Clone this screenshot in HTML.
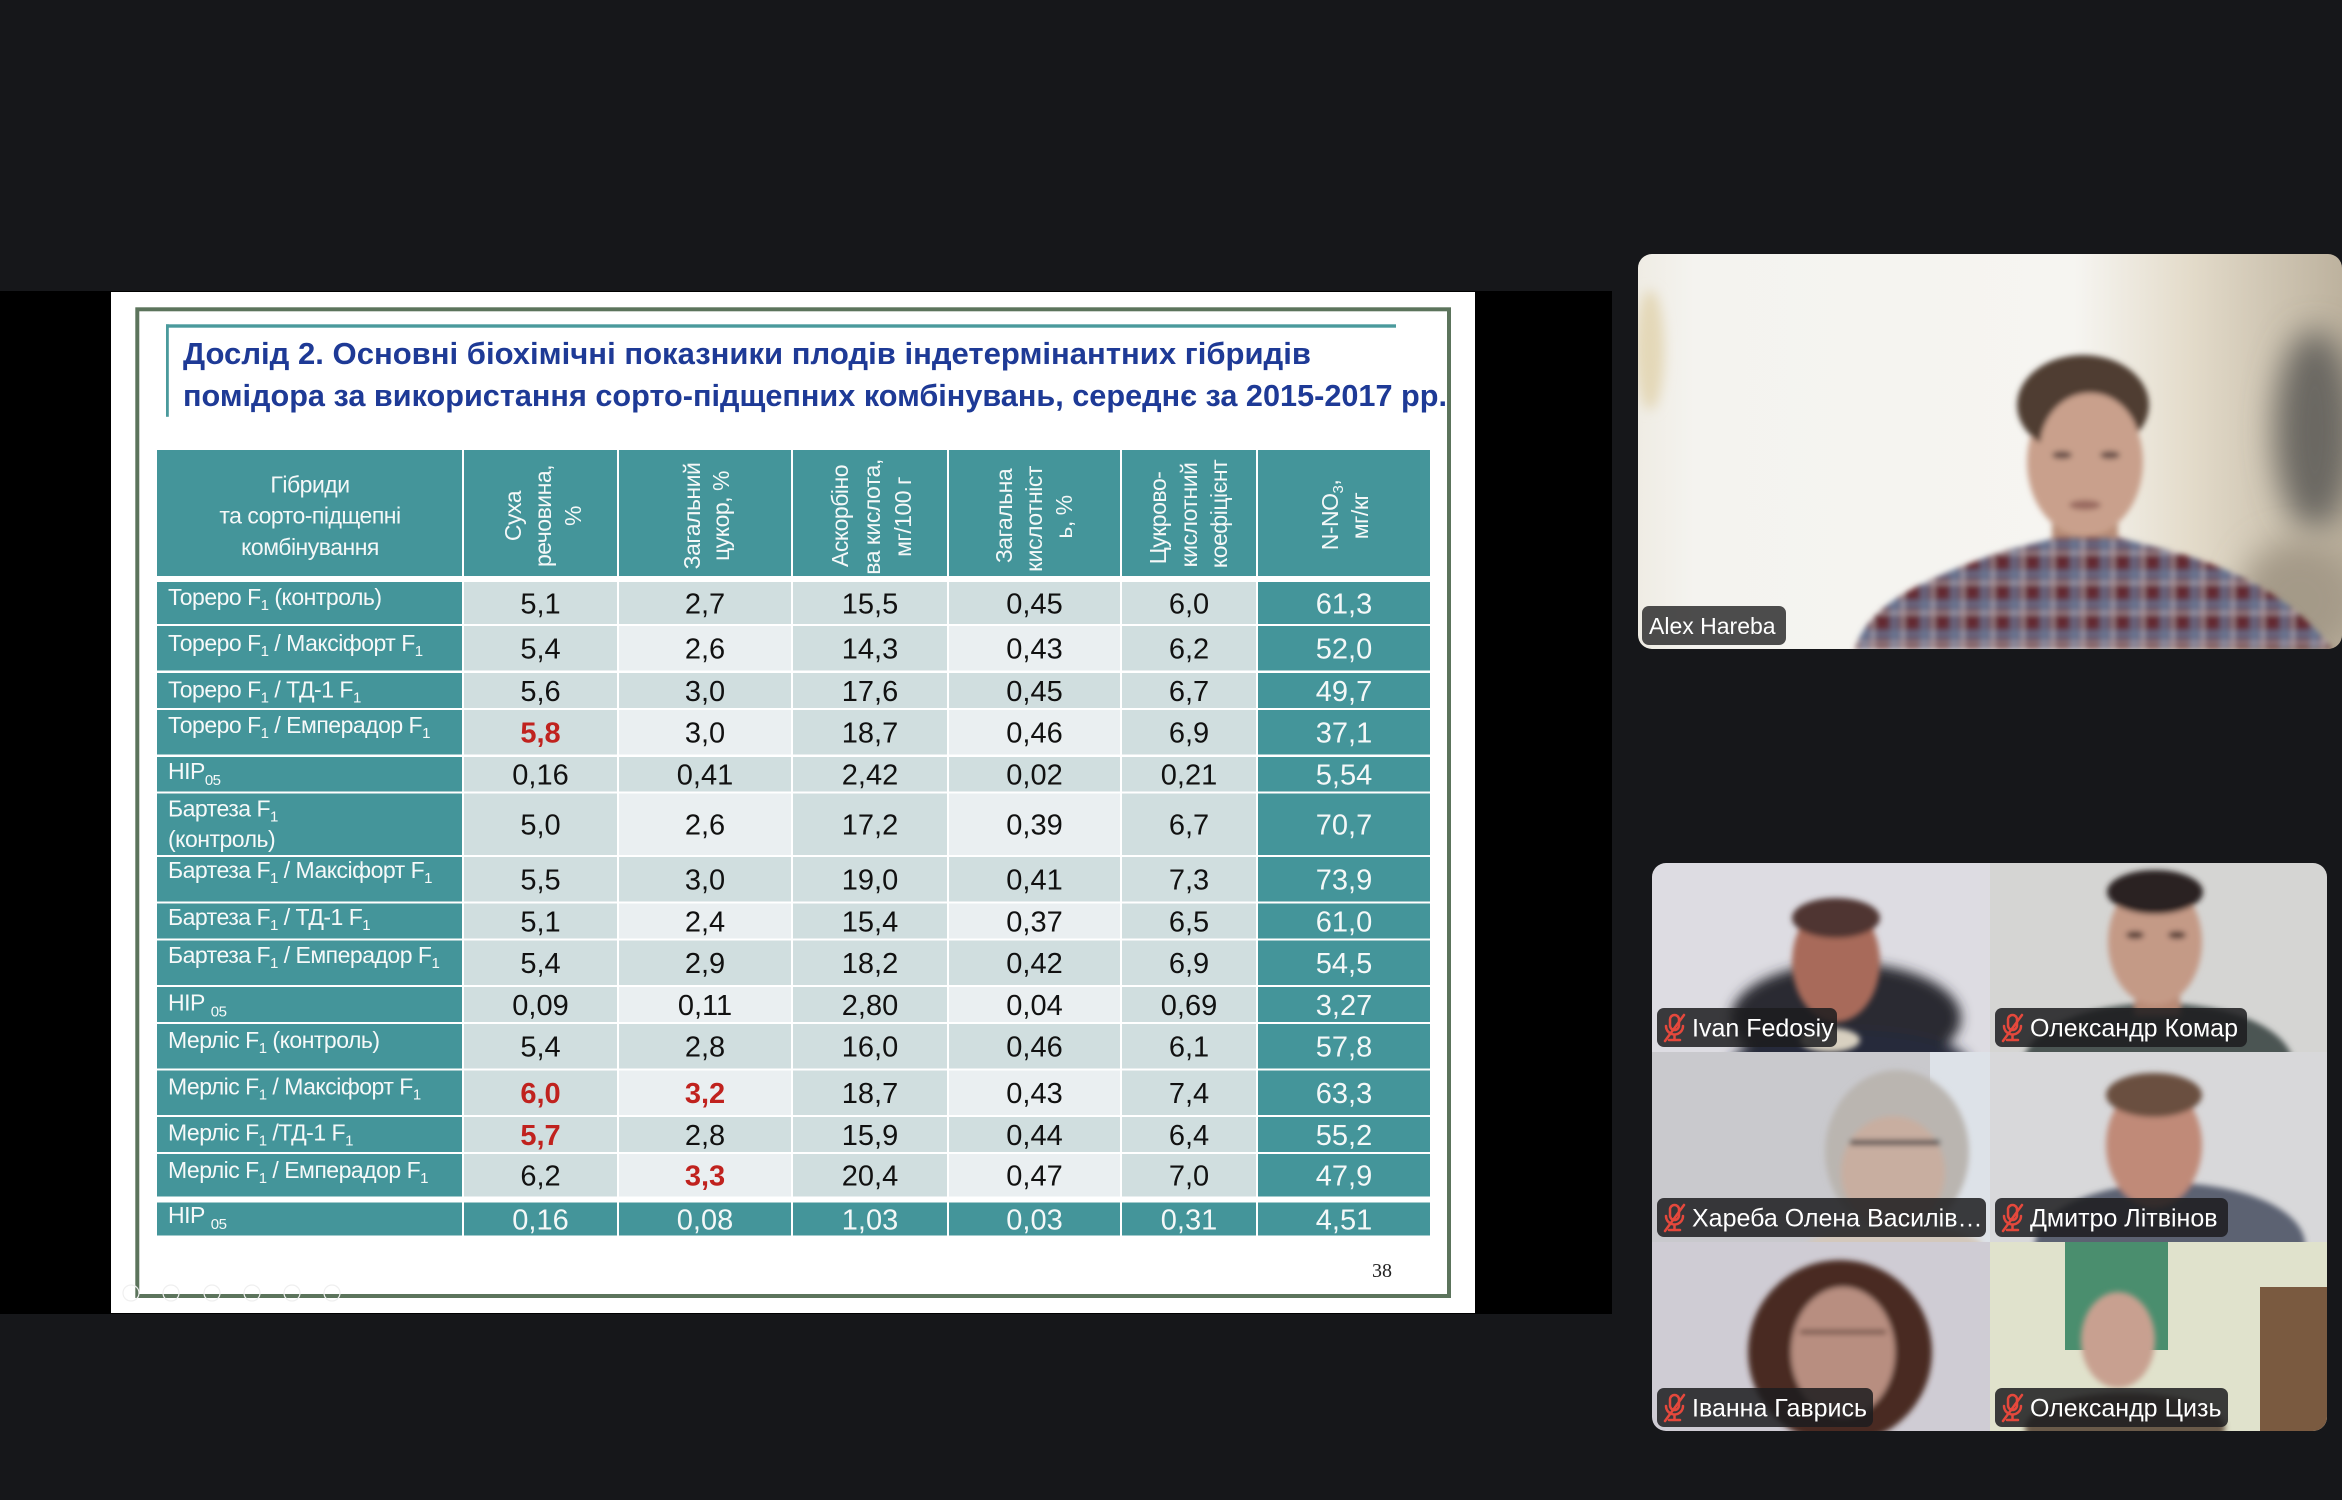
<!DOCTYPE html>
<html>
<head>
<meta charset="utf-8">
<style>
html,body{margin:0;padding:0;background:#16171a;overflow:hidden;}
svg{display:block;}
</style>
</head>
<body>
<svg width="2342" height="1500" viewBox="0 0 2342 1500" xmlns="http://www.w3.org/2000/svg" font-family="'Liberation Sans', Arial, sans-serif">
<defs>
  <filter id="b6" x="-50%" y="-50%" width="200%" height="200%"><feGaussianBlur stdDeviation="6"/></filter>
  <filter id="b3" x="-50%" y="-50%" width="200%" height="200%"><feGaussianBlur stdDeviation="3"/></filter>
  <filter id="b14" x="-50%" y="-50%" width="200%" height="200%"><feGaussianBlur stdDeviation="16"/></filter>
  <pattern id="plaid" width="30" height="30" patternUnits="userSpaceOnUse">
    <rect width="30" height="30" fill="#632a33"/>
    <rect x="0" y="0" width="9" height="30" fill="#6a7c9a" opacity="0.7"/>
    <rect x="0" y="0" width="30" height="9" fill="#6a7c9a" opacity="0.7"/>
    <rect x="12" y="0" width="2" height="30" fill="#eceef4" opacity="0.65"/>
    <rect x="0" y="12" width="30" height="2" fill="#eceef4" opacity="0.65"/>
  </pattern>
  <linearGradient id="mainbg" x1="0" y1="0" x2="1" y2="0">
    <stop offset="0" stop-color="#efece4"/>
    <stop offset="0.08" stop-color="#f4f3ef"/>
    <stop offset="0.62" stop-color="#f6f5f1"/>
    <stop offset="0.78" stop-color="#e4dccb"/>
    <stop offset="1" stop-color="#bdb29e"/>
  </linearGradient>
  <clipPath id="mainclip"><rect x="1638" y="254" width="704" height="395" rx="14"/></clipPath>
  <clipPath id="galclip"><rect x="1652" y="863" width="675" height="568" rx="14"/></clipPath>
</defs>

<rect x="0" y="0" width="2342" height="1500" fill="#16171a"/>
<rect x="0" y="291" width="1612" height="1023" fill="#000"/>
<rect x="111" y="292" width="1364" height="1021" fill="#ffffff"/>
<rect x="137.3" y="309.3" width="1311.7" height="986.7" fill="none" stroke="#5c745c" stroke-width="4"/>

<rect x="166" y="324.3" width="1230" height="3.4" fill="#4a9a9c"/>
<rect x="166" y="324.3" width="2.8" height="92.5" fill="#4a9a9c"/>

<g font-weight="bold" font-size="31" fill="#1e3a96">
<text x="183" y="364" textLength="1128" lengthAdjust="spacingAndGlyphs">Дослід 2. Основні біохімічні показники плодів індетермінантних гібридів</text>
<text x="183" y="406" textLength="1264" lengthAdjust="spacingAndGlyphs">помідора за використання сорто-підщепних комбінувань, середнє за 2015-2017 рр.</text>
</g>

<g fill="#44959a">
<rect x="157" y="450" width="305" height="126"/>
<rect x="464" y="450" width="153" height="126"/>
<rect x="619" y="450" width="172" height="126"/>
<rect x="793" y="450" width="154" height="126"/>
<rect x="949" y="450" width="171" height="126"/>
<rect x="1122" y="450" width="134" height="126"/>
<rect x="1258" y="450" width="172" height="126"/>
</g>

<g fill="#f4f8f8" font-size="23" letter-spacing="-0.5" text-anchor="middle">
<text x="310" y="492.7">Гібриди</text>
<text x="310" y="523.5">та сорто-підщепні</text>
<text x="310" y="555">комбінування</text>

<text transform="translate(521,516) rotate(-90)">Суха</text>
<text transform="translate(551,516) rotate(-90)">речовина,</text>
<text transform="translate(581,516) rotate(-90)">%</text>

<text transform="translate(700,516) rotate(-90)">Загальний</text>
<text transform="translate(729,516) rotate(-90)">цукор, %</text>

<text transform="translate(848,516) rotate(-90)">Аскорбіно</text>
<text transform="translate(880,517) rotate(-90)">ва кислота,</text>
<text transform="translate(911,517) rotate(-90)">мг/100 г</text>

<text transform="translate(1012,516) rotate(-90)">Загальна</text>
<text transform="translate(1042,519) rotate(-90)">кислотніст</text>
<text transform="translate(1072,517) rotate(-90)">ь, %</text>

<text transform="translate(1166,518) rotate(-90)">Цукрово-</text>
<text transform="translate(1197,515) rotate(-90)">кислотний</text>
<text transform="translate(1227,514) rotate(-90)">коефіцієнт</text>

<text transform="translate(1338,515) rotate(-90)">N-NO<tspan font-size="15" dy="5">3</tspan><tspan dy="-5">,</tspan></text>
<text transform="translate(1368,516) rotate(-90)">мг/кг</text>
</g>

<g fill="#44959a">
<rect x="157" y="582" width="305" height="42"/><rect x="1258" y="582" width="172" height="42"/>
<rect x="157" y="626" width="305" height="44.5"/><rect x="1258" y="626" width="172" height="44.5"/>
<rect x="157" y="673" width="305" height="35"/><rect x="1258" y="673" width="172" height="35"/>
<rect x="157" y="710" width="305" height="44.5"/><rect x="1258" y="710" width="172" height="44.5"/>
<rect x="157" y="757" width="305" height="34.5"/><rect x="1258" y="757" width="172" height="34.5"/>
<rect x="157" y="793.5" width="305" height="61.5"/><rect x="1258" y="793.5" width="172" height="61.5"/>
<rect x="157" y="857" width="305" height="44.5"/><rect x="1258" y="857" width="172" height="44.5"/>
<rect x="157" y="903.5" width="305" height="35"/><rect x="1258" y="903.5" width="172" height="35"/>
<rect x="157" y="940.5" width="305" height="44.5"/><rect x="1258" y="940.5" width="172" height="44.5"/>
<rect x="157" y="987" width="305" height="35"/><rect x="1258" y="987" width="172" height="35"/>
<rect x="157" y="1024" width="305" height="44.5"/><rect x="1258" y="1024" width="172" height="44.5"/>
<rect x="157" y="1070.5" width="305" height="44.5"/><rect x="1258" y="1070.5" width="172" height="44.5"/>
<rect x="157" y="1117" width="305" height="35"/><rect x="1258" y="1117" width="172" height="35"/>
<rect x="157" y="1154" width="305" height="42.5"/><rect x="1258" y="1154" width="172" height="42.5"/>
<rect x="157" y="1202.5" width="305" height="33"/>
<rect x="464" y="1202.5" width="153" height="33"/>
<rect x="619" y="1202.5" width="172" height="33"/>
<rect x="793" y="1202.5" width="154" height="33"/>
<rect x="949" y="1202.5" width="171" height="33"/>
<rect x="1122" y="1202.5" width="134" height="33"/>
<rect x="1258" y="1202.5" width="172" height="33"/>
</g>

<g fill="#d0dedf">
<rect x="464" y="582" width="153" height="42"/><rect x="464" y="626" width="153" height="44.5"/><rect x="464" y="673" width="153" height="35"/><rect x="464" y="710" width="153" height="44.5"/><rect x="464" y="757" width="153" height="34.5"/><rect x="464" y="793.5" width="153" height="61.5"/><rect x="464" y="857" width="153" height="44.5"/><rect x="464" y="903.5" width="153" height="35"/><rect x="464" y="940.5" width="153" height="44.5"/><rect x="464" y="987" width="153" height="35"/><rect x="464" y="1024" width="153" height="44.5"/><rect x="464" y="1070.5" width="153" height="44.5"/><rect x="464" y="1117" width="153" height="35"/><rect x="464" y="1154" width="153" height="42.5"/>
<rect x="793" y="582" width="154" height="42"/><rect x="793" y="626" width="154" height="44.5"/><rect x="793" y="673" width="154" height="35"/><rect x="793" y="710" width="154" height="44.5"/><rect x="793" y="757" width="154" height="34.5"/><rect x="793" y="793.5" width="154" height="61.5"/><rect x="793" y="857" width="154" height="44.5"/><rect x="793" y="903.5" width="154" height="35"/><rect x="793" y="940.5" width="154" height="44.5"/><rect x="793" y="987" width="154" height="35"/><rect x="793" y="1024" width="154" height="44.5"/><rect x="793" y="1070.5" width="154" height="44.5"/><rect x="793" y="1117" width="154" height="35"/><rect x="793" y="1154" width="154" height="42.5"/>
<rect x="1122" y="582" width="134" height="42"/><rect x="1122" y="626" width="134" height="44.5"/><rect x="1122" y="673" width="134" height="35"/><rect x="1122" y="710" width="134" height="44.5"/><rect x="1122" y="757" width="134" height="34.5"/><rect x="1122" y="793.5" width="134" height="61.5"/><rect x="1122" y="857" width="134" height="44.5"/><rect x="1122" y="903.5" width="134" height="35"/><rect x="1122" y="940.5" width="134" height="44.5"/><rect x="1122" y="987" width="134" height="35"/><rect x="1122" y="1024" width="134" height="44.5"/><rect x="1122" y="1070.5" width="134" height="44.5"/><rect x="1122" y="1117" width="134" height="35"/><rect x="1122" y="1154" width="134" height="42.5"/>
<rect x="619" y="582" width="172" height="42"/><rect x="949" y="582" width="171" height="42"/>
<rect x="619" y="673" width="172" height="35"/><rect x="949" y="673" width="171" height="35"/>
<rect x="619" y="757" width="172" height="34.5"/><rect x="949" y="757" width="171" height="34.5"/>
<rect x="619" y="857" width="172" height="44.5"/><rect x="949" y="857" width="171" height="44.5"/>
<rect x="619" y="940.5" width="172" height="44.5"/><rect x="949" y="940.5" width="171" height="44.5"/>
<rect x="619" y="1024" width="172" height="44.5"/><rect x="949" y="1024" width="171" height="44.5"/>
<rect x="619" y="1117" width="172" height="35"/><rect x="949" y="1117" width="171" height="35"/>
</g>
<g fill="#eaeff1">
<rect x="619" y="626" width="172" height="44.5"/><rect x="949" y="626" width="171" height="44.5"/>
<rect x="619" y="710" width="172" height="44.5"/><rect x="949" y="710" width="171" height="44.5"/>
<rect x="619" y="793.5" width="172" height="61.5"/><rect x="949" y="793.5" width="171" height="61.5"/>
<rect x="619" y="903.5" width="172" height="35"/><rect x="949" y="903.5" width="171" height="35"/>
<rect x="619" y="987" width="172" height="35"/><rect x="949" y="987" width="171" height="35"/>
<rect x="619" y="1070.5" width="172" height="44.5"/><rect x="949" y="1070.5" width="171" height="44.5"/>
<rect x="619" y="1154" width="172" height="42.5"/><rect x="949" y="1154" width="171" height="42.5"/>
</g>

<g fill="#f6f9f9" font-size="23" letter-spacing="-0.5">
<text x="168" y="605">Тореро F<tspan font-size="15" dy="5">1</tspan><tspan dy="-5"> (контроль)</tspan></text>
<text x="168" y="651">Тореро F<tspan font-size="15" dy="5">1</tspan><tspan dy="-5"> / Максіфорт F</tspan><tspan font-size="15" dy="5">1</tspan></text>
<text x="168" y="697.5">Тореро F<tspan font-size="15" dy="5">1</tspan><tspan dy="-5"> / ТД-1 F</tspan><tspan font-size="15" dy="5">1</tspan></text>
<text x="168" y="733">Тореро F<tspan font-size="15" dy="5">1</tspan><tspan dy="-5"> / Емперадор F</tspan><tspan font-size="15" dy="5">1</tspan></text>
<text x="168" y="779">НІР<tspan font-size="15" dy="6">05</tspan></text>
<text x="168" y="816.5">Бартеза F<tspan font-size="15" dy="5">1</tspan></text>
<text x="168" y="847">(контроль)</text>
<text x="168" y="878">Бартеза  F<tspan font-size="15" dy="5">1</tspan><tspan dy="-5"> / Максіфорт F</tspan><tspan font-size="15" dy="5">1</tspan></text>
<text x="168" y="925">Бартеза F<tspan font-size="15" dy="5">1</tspan><tspan dy="-5"> / ТД-1 F</tspan><tspan font-size="15" dy="5">1</tspan></text>
<text x="168" y="963">Бартеза F<tspan font-size="15" dy="5">1</tspan><tspan dy="-5"> / Емперадор F</tspan><tspan font-size="15" dy="5">1</tspan></text>
<text x="168" y="1010.5">НІР <tspan font-size="15" dy="6">05</tspan></text>
<text x="168" y="1048">Мерліс F<tspan font-size="15" dy="5">1</tspan><tspan dy="-5"> (контроль)</tspan></text>
<text x="168" y="1094.5">Мерліс F<tspan font-size="15" dy="5">1</tspan><tspan dy="-5"> / Максіфорт F</tspan><tspan font-size="15" dy="5">1</tspan></text>
<text x="168" y="1140.5">Мерліс  F<tspan font-size="15" dy="5">1</tspan><tspan dy="-5"> /ТД-1 F</tspan><tspan font-size="15" dy="5">1</tspan></text>
<text x="168" y="1178">Мерліс  F<tspan font-size="15" dy="5">1</tspan><tspan dy="-5"> / Емперадор F</tspan><tspan font-size="15" dy="5">1</tspan></text>
<text x="168" y="1223">НІР <tspan font-size="15" dy="6">05</tspan></text>
</g>

<g font-size="29" text-anchor="middle" fill="#111111">
<text x="540.5" y="613.3">5,1</text><text x="705" y="613.3">2,7</text><text x="870" y="613.3">15,5</text><text x="1034.5" y="613.3">0,45</text><text x="1189" y="613.3">6,0</text>
<text x="540.5" y="658.5">5,4</text><text x="705" y="658.5">2,6</text><text x="870" y="658.5">14,3</text><text x="1034.5" y="658.5">0,43</text><text x="1189" y="658.5">6,2</text>
<text x="540.5" y="700.8">5,6</text><text x="705" y="700.8">3,0</text><text x="870" y="700.8">17,6</text><text x="1034.5" y="700.8">0,45</text><text x="1189" y="700.8">6,7</text>
<text x="540.5" y="742.5" fill="#c0221e" font-weight="bold">5,8</text><text x="705" y="742.5">3,0</text><text x="870" y="742.5">18,7</text><text x="1034.5" y="742.5">0,46</text><text x="1189" y="742.5">6,9</text>
<text x="540.5" y="784.5">0,16</text><text x="705" y="784.5">0,41</text><text x="870" y="784.5">2,42</text><text x="1034.5" y="784.5">0,02</text><text x="1189" y="784.5">0,21</text>
<text x="540.5" y="834.5">5,0</text><text x="705" y="834.5">2,6</text><text x="870" y="834.5">17,2</text><text x="1034.5" y="834.5">0,39</text><text x="1189" y="834.5">6,7</text>
<text x="540.5" y="889.5">5,5</text><text x="705" y="889.5">3,0</text><text x="870" y="889.5">19,0</text><text x="1034.5" y="889.5">0,41</text><text x="1189" y="889.5">7,3</text>
<text x="540.5" y="931.3">5,1</text><text x="705" y="931.3">2,4</text><text x="870" y="931.3">15,4</text><text x="1034.5" y="931.3">0,37</text><text x="1189" y="931.3">6,5</text>
<text x="540.5" y="973">5,4</text><text x="705" y="973">2,9</text><text x="870" y="973">18,2</text><text x="1034.5" y="973">0,42</text><text x="1189" y="973">6,9</text>
<text x="540.5" y="1014.8">0,09</text><text x="705" y="1014.8">0,11</text><text x="870" y="1014.8">2,80</text><text x="1034.5" y="1014.8">0,04</text><text x="1189" y="1014.8">0,69</text>
<text x="540.5" y="1056.5">5,4</text><text x="705" y="1056.5">2,8</text><text x="870" y="1056.5">16,0</text><text x="1034.5" y="1056.5">0,46</text><text x="1189" y="1056.5">6,1</text>
<text x="540.5" y="1103" fill="#c0221e" font-weight="bold">6,0</text><text x="705" y="1103" fill="#c0221e" font-weight="bold">3,2</text><text x="870" y="1103">18,7</text><text x="1034.5" y="1103">0,43</text><text x="1189" y="1103">7,4</text>
<text x="540.5" y="1144.8" fill="#c0221e" font-weight="bold">5,7</text><text x="705" y="1144.8">2,8</text><text x="870" y="1144.8">15,9</text><text x="1034.5" y="1144.8">0,44</text><text x="1189" y="1144.8">6,4</text>
<text x="540.5" y="1185.5">6,2</text><text x="705" y="1185.5" fill="#c0221e" font-weight="bold">3,3</text><text x="870" y="1185.5">20,4</text><text x="1034.5" y="1185.5">0,47</text><text x="1189" y="1185.5">7,0</text>
</g>
<g font-size="29" text-anchor="middle" fill="#f4f8f8">
<text x="1344" y="613.3">61,3</text>
<text x="1344" y="658.5">52,0</text>
<text x="1344" y="700.8">49,7</text>
<text x="1344" y="742.5">37,1</text>
<text x="1344" y="784.5">5,54</text>
<text x="1344" y="834.5">70,7</text>
<text x="1344" y="889.5">73,9</text>
<text x="1344" y="931.3">61,0</text>
<text x="1344" y="973">54,5</text>
<text x="1344" y="1014.8">3,27</text>
<text x="1344" y="1056.5">57,8</text>
<text x="1344" y="1103">63,3</text>
<text x="1344" y="1144.8">55,2</text>
<text x="1344" y="1185.5">47,9</text>
<text x="540.5" y="1229.3">0,16</text><text x="705" y="1229.3">0,08</text><text x="870" y="1229.3">1,03</text><text x="1034.5" y="1229.3">0,03</text><text x="1189" y="1229.3">0,31</text><text x="1344" y="1229.3">4,51</text>
</g>

<text x="1372" y="1277" font-family="'Liberation Serif', serif" font-size="20" fill="#222">38</text>
<g fill="none" stroke="#efefef" stroke-width="1.2">
<circle cx="131" cy="1293" r="8"/><circle cx="171" cy="1293" r="8"/><circle cx="212" cy="1293" r="8"/><circle cx="252" cy="1293" r="8"/><circle cx="292" cy="1293" r="8"/><circle cx="332" cy="1293" r="8"/>
</g>

<!-- MAIN SPEAKER TILE -->
<g clip-path="url(#mainclip)">
  <rect x="1638" y="254" width="704" height="395" fill="url(#mainbg)"/>
  <ellipse cx="1650" cy="350" rx="14" ry="60" fill="#e4d8b8" filter="url(#b6)"/>
  <ellipse cx="2315" cy="430" rx="40" ry="100" fill="#6b6862" filter="url(#b14)"/>
  <ellipse cx="2300" cy="600" rx="60" ry="60" fill="#a49a88" filter="url(#b14)"/>
  <g filter="url(#b3)">
    <rect x="2052" y="505" width="66" height="55" fill="#b88e78"/>
    <ellipse cx="2085" cy="462" rx="58" ry="74" fill="#c9a08c"/>
    <ellipse cx="2083" cy="405" rx="66" ry="50" fill="#4f3d33"/>
    <ellipse cx="2090" cy="448" rx="50" ry="55" fill="#c9a08c"/>
    <ellipse cx="2062" cy="455" rx="10" ry="4" fill="#6b5048"/>
    <ellipse cx="2110" cy="455" rx="10" ry="4" fill="#6b5048"/>
    <ellipse cx="2085" cy="505" rx="16" ry="5" fill="#9a6a60"/>
  </g>
  <path d="M1855,649 C1870,600 1930,578 2000,552 L2055,538 L2120,538 L2175,552 C2245,572 2300,605 2332,649 Z" fill="url(#plaid)" filter="url(#b3)"/>
  <rect x="1642" y="606" width="144" height="39" rx="7" fill="rgba(28,28,30,0.78)"/>
  <text x="1649" y="634" font-size="23" fill="#ffffff">Alex Hareba</text>
</g>

<!-- GALLERY -->
<g clip-path="url(#galclip)">
  <rect x="1652" y="863" width="338" height="189" fill="#dddce2"/>
  <g filter="url(#b6)">
    <ellipse cx="1846" cy="1018" rx="115" ry="55" fill="#2b2b33"/>
    <ellipse cx="1850" cy="1065" rx="120" ry="35" fill="#262a3a"/>
  </g>
  <g filter="url(#b3)">
    <ellipse cx="1836" cy="962" rx="44" ry="60" fill="#a86a5a"/>
    <ellipse cx="1836" cy="918" rx="44" ry="20" fill="#4f3530"/>
    <ellipse cx="1830" cy="1040" rx="30" ry="12" fill="#d8d0c0"/>
  </g>
  <rect x="1990" y="863" width="337" height="189" fill="#d5d5d3"/>
  <g filter="url(#b3)">
    <ellipse cx="2158" cy="1065" rx="135" ry="62" fill="#4b5553"/>
    <rect x="2135" y="985" width="45" height="30" fill="#b88a76"/>
    <ellipse cx="2155" cy="942" rx="47" ry="63" fill="#c49a86"/>
    <ellipse cx="2155" cy="892" rx="48" ry="22" fill="#2a2420"/>
    <ellipse cx="2135" cy="935" rx="9" ry="4" fill="#5a4038"/>
    <ellipse cx="2177" cy="935" rx="9" ry="4" fill="#5a4038"/>
  </g>
  <rect x="1652" y="1052" width="338" height="190" fill="#c9c9cd"/>
  <rect x="1930" y="1052" width="60" height="190" fill="#dde2e8"/>
  <g filter="url(#b3)">
    <ellipse cx="1897" cy="1152" rx="72" ry="82" fill="#bab5b0"/>
    <ellipse cx="1893" cy="1172" rx="52" ry="56" fill="#c8aea0"/>
    <rect x="1850" y="1140" width="90" height="5" fill="#3a3a40"/>
    <ellipse cx="1895" cy="1250" rx="90" ry="25" fill="#d3c8bc"/>
  </g>
  <rect x="1990" y="1052" width="337" height="190" fill="#d8d8da"/>
  <g filter="url(#b3)">
    <ellipse cx="2170" cy="1245" rx="135" ry="62" fill="#5b6272"/>
    <ellipse cx="2154" cy="1145" rx="48" ry="62" fill="#c08a78"/>
    <ellipse cx="2154" cy="1095" rx="48" ry="22" fill="#6a5040"/>
  </g>
  <rect x="1652" y="1242" width="338" height="189" fill="#cfccd4"/>
  <g filter="url(#b3)">
    <ellipse cx="1840" cy="1352" rx="92" ry="92" fill="#4a2a22"/>
    <ellipse cx="1843" cy="1352" rx="52" ry="65" fill="#b88e80"/>
    <rect x="1800" y="1330" width="86" height="4" fill="#6a4a40"/>
  </g>
  <rect x="1990" y="1242" width="337" height="189" fill="#e0e2cc"/>
  <rect x="2065" y="1242" width="103" height="108" fill="#4a8e6e"/>
  <rect x="2260" y="1287" width="67" height="144" fill="#7a5a40"/>
  <g filter="url(#b3)">
    <ellipse cx="2125" cy="1428" rx="100" ry="35" fill="#6b5a48"/>
    <ellipse cx="2118" cy="1340" rx="37" ry="48" fill="#c8a090"/>
  </g>

  <g fill="rgba(28,28,30,0.85)">
    <rect x="1657" y="1008" width="180" height="39" rx="7"/>
    <rect x="1995" y="1008" width="252" height="39" rx="7"/>
    <rect x="1657" y="1198" width="329" height="39" rx="7"/>
    <rect x="1995" y="1198" width="233" height="39" rx="7"/>
    <rect x="1657" y="1388" width="216" height="39" rx="7"/>
    <rect x="1995" y="1388" width="233" height="39" rx="7"/>
  </g>
  <g stroke="#e5483c" stroke-width="2.5" fill="none" stroke-linecap="round">
    <g transform="translate(1662,1014)"><rect x="8" y="1" width="9" height="15" rx="4.5"/><path d="M4 12 a8.5 8.5 0 0 0 17 0"/><path d="M12.5 21 v5 M7 26 h11"/><path d="M22 1 L3 27"/></g>
    <g transform="translate(2000,1014)"><rect x="8" y="1" width="9" height="15" rx="4.5"/><path d="M4 12 a8.5 8.5 0 0 0 17 0"/><path d="M12.5 21 v5 M7 26 h11"/><path d="M22 1 L3 27"/></g>
    <g transform="translate(1662,1204)"><rect x="8" y="1" width="9" height="15" rx="4.5"/><path d="M4 12 a8.5 8.5 0 0 0 17 0"/><path d="M12.5 21 v5 M7 26 h11"/><path d="M22 1 L3 27"/></g>
    <g transform="translate(2000,1204)"><rect x="8" y="1" width="9" height="15" rx="4.5"/><path d="M4 12 a8.5 8.5 0 0 0 17 0"/><path d="M12.5 21 v5 M7 26 h11"/><path d="M22 1 L3 27"/></g>
    <g transform="translate(1662,1394)"><rect x="8" y="1" width="9" height="15" rx="4.5"/><path d="M4 12 a8.5 8.5 0 0 0 17 0"/><path d="M12.5 21 v5 M7 26 h11"/><path d="M22 1 L3 27"/></g>
    <g transform="translate(2000,1394)"><rect x="8" y="1" width="9" height="15" rx="4.5"/><path d="M4 12 a8.5 8.5 0 0 0 17 0"/><path d="M12.5 21 v5 M7 26 h11"/><path d="M22 1 L3 27"/></g>
  </g>
  <g fill="#ffffff" font-size="25">
    <text x="1692" y="1036.5">Ivan Fedosiy</text>
    <text x="2030" y="1036.5">Олександр Комар</text>
    <text x="1692" y="1226.5">Хареба Олена Василів…</text>
    <text x="2030" y="1226.5">Дмитро Літвінов</text>
    <text x="1692" y="1416.5">Іванна Гаврись</text>
    <text x="2030" y="1416.5">Олександр Цизь</text>
  </g>
</g>
</svg>
</body>
</html>
